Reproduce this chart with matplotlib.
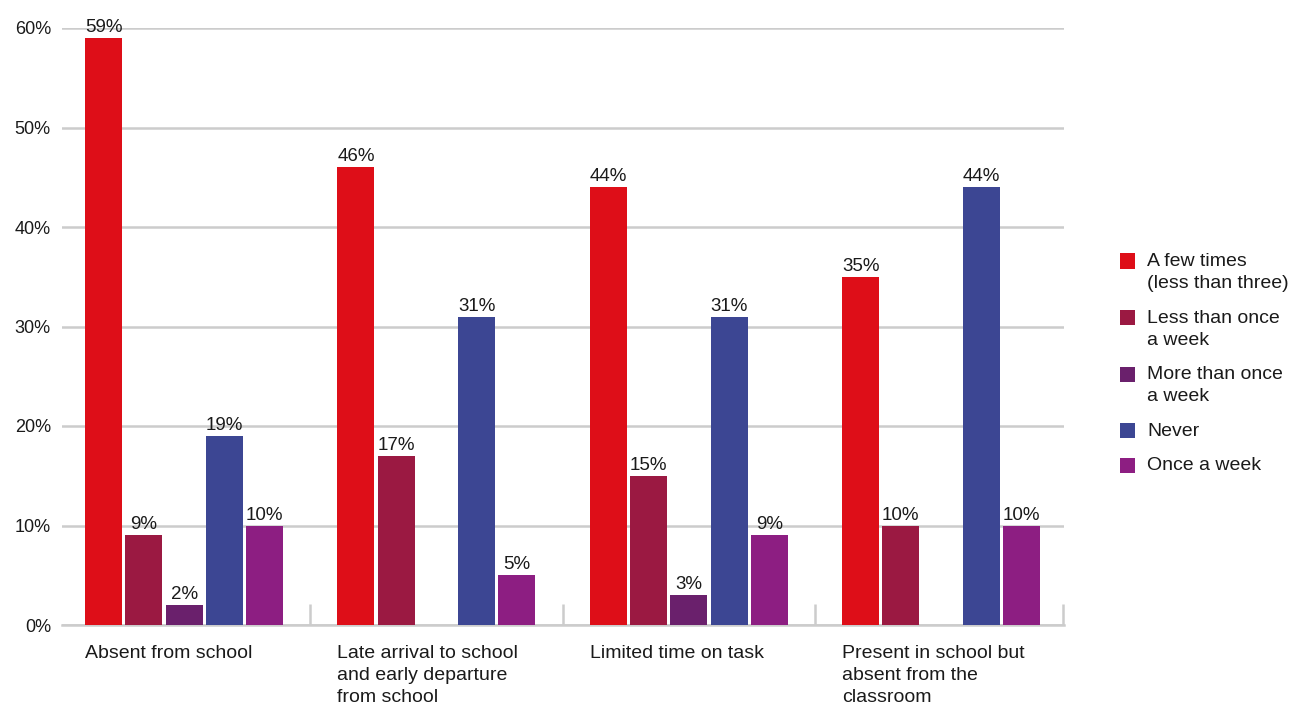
import numpy as np
import matplotlib
matplotlib.use("Agg")
import matplotlib.pyplot as plt
from matplotlib.patches import Rectangle
from matplotlib.transforms import blended_transform_factory

plt.rcParams['font.family'] = ['Liberation Sans', 'DejaVu Sans']

categories = ["Absent from school",
              "Late arrival to school\nand early departure\nfrom school",
              "Limited time on task",
              "Present in school but\nabsent from the\nclassroom"]
series_names = ["A few times\n(less than three)",
                "Less than once\na week",
                "More than once\na week",
                "Never",
                "Once a week"]
few_times = [59, 46, 44, 35]
less_than_once = [9, 17, 15, 10]
more_than_once = [2, np.nan, 3, np.nan]
never = [19, 31, 31, 44]
once_a_week = [10, 5, 9, 10]
series_values = [few_times, less_than_once, more_than_once, never, once_a_week]
colors = ["#DE0E18", "#9B1942", "#6A206C", "#3C4693", "#8D1E82"]
yticks = [0, 10, 20, 30, 40, 50, 60]
ytick_labels = ["0%", "10%", "20%", "30%", "40%", "50%", "60%"]

W, H = 1289, 704
fig = plt.figure(figsize=(W / 100, H / 100), dpi=100)
ax = fig.add_axes([62/W, 1-625/H, (1064-62)/W, (625-28)/H])

x = np.arange(len(categories))
pitch = 0.1595
width = 0.1467
text_col = '#1a1a1a'
for j, (name, vals, c) in enumerate(zip(series_names, series_values, colors)):
    xs = x + (j - 2) * pitch
    ax.bar(xs, vals, width=width, color=c, label=name, zorder=3)
    for xi, v in zip(xs, vals):
        if not np.isnan(v):
            ax.text(xi, v + 0.2, f"{v:.0f}%", ha='center', va='bottom',
                    fontsize=13.5, color=text_col, zorder=4)

xl = (-0.484, 3.487)
ax.set_xlim(*xl)
ax.set_ylim(0, 60)
ax.set_yticks(yticks)
ax.set_yticklabels(ytick_labels, fontsize=13, color=text_col)
ax.yaxis.grid(True, color='#cccccc', linewidth=1.8, zorder=0)
ax.set_axisbelow(True)
ax.tick_params(axis='y', length=0, pad=8)
for s in ['top', 'right', 'left']:
    ax.spines[s].set_visible(False)
ax.spines['bottom'].set_color('#cccccc')
ax.spines['bottom'].set_linewidth(1.8)

ax.set_xticks([0.5, 1.5, 2.5, xl[1] - 0.004])
ax.set_xticklabels([])
ax.tick_params(axis='x', direction='in', length=15, width=1.8, color='#cccccc')

trans = blended_transform_factory(ax.transData, ax.transAxes)
for xi, lab in zip(x, categories):
    ax.text(xi - 2 * pitch - width / 2, -0.033, lab, transform=trans,
            ha='left', va='top', fontsize=14, color=text_col, linespacing=1.4)

# Legend: square aligned with the first line of each label
line_h = 22.0
gap = 12.5
sq = 15
y_px = 261.0  # centre of first text line of first entry (pixels from top)
for name, c in zip(series_names, colors):
    fig.patches.append(Rectangle((1120 / W, 1 - (y_px + sq / 2) / H), sq / W, sq / H,
                                 transform=fig.transFigure, facecolor=c,
                                 edgecolor='none'))
    fig.text(1147 / W, 1 - (y_px - 8) / H, name, ha='left', va='top',
             fontsize=14, color=text_col, linespacing=1.4)
    n_lines = name.count("\n") + 1
    y_px += n_lines * line_h + gap

fig.savefig("out.png", dpi=100)
